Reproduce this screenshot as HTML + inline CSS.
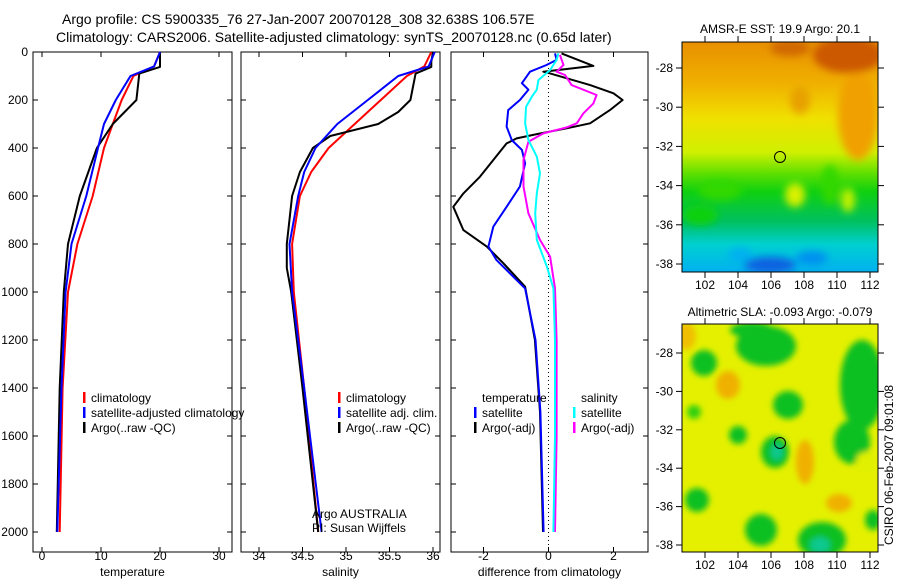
<!DOCTYPE html>
<html><head><meta charset="utf-8">
<style>
html,body{margin:0;padding:0;background:#fff;}
svg{display:block;font-family:"Liberation Sans",sans-serif;}
text{font-size:12px;fill:#000;}
.ttl{font-size:14px;}
</style></head>
<body>
<svg id="chart" width="900" height="580" viewBox="0 0 900 580">
<defs>
<filter id="blur1" x="-20%" y="-20%" width="140%" height="140%"><feGaussianBlur stdDeviation="4"/></filter>
<filter id="blur2" x="-20%" y="-20%" width="140%" height="140%"><feGaussianBlur stdDeviation="3"/></filter>
<clipPath id="clipMap1"><rect x="682" y="42" width="196" height="230"/></clipPath>
<clipPath id="clipMap2"><rect x="682" y="324" width="196" height="228"/></clipPath>
<linearGradient id="sstGrad" x1="0" y1="0" x2="0" y2="1">
<stop offset="0" stop-color="#e89000"/>
<stop offset="0.18" stop-color="#f0b000"/>
<stop offset="0.33" stop-color="#f0e000"/>
<stop offset="0.48" stop-color="#d0f000"/>
<stop offset="0.57" stop-color="#60e000"/>
<stop offset="0.65" stop-color="#10d010"/>
<stop offset="0.78" stop-color="#00c060"/>
<stop offset="0.88" stop-color="#00d0d0"/>
<stop offset="1" stop-color="#00b0f0"/>
</linearGradient>
</defs>
<text class="ttl" x="62" y="24">Argo profile: CS 5900335_76 27-Jan-2007 20070128_308 32.638S 106.57E</text>
<text class="ttl" x="56" y="42">Climatology: CARS2006. Satellite-adjusted climatology: synTS_20070128.nc (0.65d later)</text>
<g id="panels"></g>

<!-- Map 1 -->
<text x="780" y="33" text-anchor="middle">AMSR-E SST: 19.9 Argo: 20.1</text>
<g clip-path="url(#clipMap1)">
<rect x="682" y="42" width="196" height="230" fill="url(#sstGrad)"/>
<g filter="url(#blur1)">
<ellipse cx="858" cy="115" rx="20" ry="45" fill="#f0a000"/>
<ellipse cx="848" cy="55" rx="35" ry="18" fill="#cc5800"/>
<ellipse cx="790" cy="48" rx="20" ry="8" fill="#d06800"/>
<ellipse cx="800" cy="100" rx="10" ry="14" fill="#e8a000"/>
<ellipse cx="720" cy="190" rx="22" ry="10" fill="#30d800"/>
<ellipse cx="830" cy="185" rx="9" ry="20" fill="#30d800"/>
<ellipse cx="795" cy="195" rx="10" ry="12" fill="#d8f000"/>
<ellipse cx="848" cy="200" rx="7" ry="12" fill="#c0f000"/>
<ellipse cx="700" cy="215" rx="18" ry="10" fill="#10d010"/>
<ellipse cx="770" cy="265" rx="26" ry="8" fill="#1060e0"/>
<ellipse cx="812" cy="258" rx="16" ry="7" fill="#0090f0"/>
<ellipse cx="740" cy="255" rx="12" ry="7" fill="#00b0f0"/>
</g>
</g>
<rect x="682" y="42" width="196" height="230" fill="none" stroke="#000"/>
<circle cx="780" cy="157" r="5.5" fill="none" stroke="#000"/>
<g id="map1axes"></g>

<!-- Map 2 -->
<text x="780" y="316" text-anchor="middle">Altimetric SLA: -0.093 Argo: -0.079</text>
<g clip-path="url(#clipMap2)">
<rect x="682" y="324" width="196" height="228" fill="#e4f000"/>
<g filter="url(#blur2)">
<ellipse cx="686" cy="336" rx="10" ry="14" fill="#f0c000"/>
<ellipse cx="728" cy="385" rx="12" ry="14" fill="#f0b000"/>
<ellipse cx="805" cy="462" rx="9" ry="22" fill="#f0b000"/>
<ellipse cx="839" cy="503" rx="13" ry="9" fill="#f0b000"/>
<ellipse cx="704" cy="363" rx="13" ry="13" fill="#10c020"/>
<ellipse cx="766" cy="346" rx="30" ry="20" fill="#10c020"/>
<ellipse cx="752" cy="330" rx="22" ry="8" fill="#10c020"/>
<ellipse cx="788" cy="405" rx="15" ry="14" fill="#10c020"/>
<ellipse cx="775" cy="452" rx="14" ry="16" fill="#10c020"/>
<ellipse cx="777" cy="452" rx="6" ry="8" fill="#10c890"/>
<ellipse cx="738" cy="435" rx="9" ry="9" fill="#10c020"/>
<ellipse cx="694" cy="412" rx="7" ry="7" fill="#30d010"/>
<ellipse cx="862" cy="385" rx="22" ry="45" fill="#10c020"/>
<ellipse cx="852" cy="442" rx="18" ry="22" fill="#10c020"/>
<ellipse cx="866" cy="462" rx="10" ry="10" fill="#e0f000"/>
<ellipse cx="697" cy="500" rx="12" ry="12" fill="#10c020"/>
<ellipse cx="761" cy="530" rx="16" ry="16" fill="#10c020"/>
<ellipse cx="822" cy="540" rx="24" ry="18" fill="#10c020"/>
<ellipse cx="820" cy="545" rx="10" ry="8" fill="#10c890"/>
<ellipse cx="873" cy="520" rx="8" ry="10" fill="#10c020"/>
</g>
</g>
<rect x="682" y="324" width="196" height="228" fill="none" stroke="#000"/>
<circle cx="780" cy="443" r="5.5" fill="none" stroke="#000"/>
<g id="map2axes"></g>
<text transform="translate(893,465) rotate(-90)" text-anchor="middle">CSIRO 06-Feb-2007 09:01:08</text>
</svg>
<script>
// ---- data ----
const depthTicks = [0,200,400,600,800,1000,1200,1400,1600,1800,2000];
const tempTicks = [0,10,20,30];
const salTicks = [34,34.5,35,35.5,36];
const diffTicks = [-2,0,2];
const tempP = [0,60,100,200,300,400,600,800,1000,1400,2000];
const tempClim = [20,19,15.5,13.5,12,10.5,8.6,6,4.4,3.5,3];
const tempSat = [20,19,15,12.5,10.5,9.5,7.5,5,4,3.3,2.6];
const argoTP = [0,50,62,90,200,250,300,400,600,800,1000,1400,2000];
const argoT = [20,20,20,16.5,16,14,12,9.3,6.4,4.4,3.7,3,2.5];
const salP = [0,60,100,200,300,400,500,600,800,1000,1400,2000];
const salClim = [35.98,35.9,35.7,35.4,35.1,34.8,34.6,34.47,34.38,34.4,34.52,34.68];
const salSat = [36.02,35.95,35.6,35.25,34.9,34.65,34.52,34.45,34.35,34.38,34.52,34.72];
const argoSP = [0,40,62,90,200,250,300,350,400,500,600,800,900,1000,1400,2000];
const argoS = [36.0,35.98,35.98,35.8,35.74,35.6,35.37,34.82,34.62,34.47,34.38,34.32,34.32,34.37,34.5,34.68];
const dTempArgoP = [6,58,82,89,138,172,200,242,297,318,342,360,381,450,520,589,645,742,811,880,978,1200,1500,2000];
const dTempArgo = [0.4,1.38,-0.16,0.05,1.28,2.0,2.28,1.89,1.28,0.56,-0.36,-0.98,-1.29,-1.7,-2.11,-2.62,-2.93,-2.62,-1.9,-1.39,-0.72,-0.42,-0.26,-0.17];
const dTempSatP = [6,33,54,82,130,157,200,242,311,367,408,464,561,645,728,811,867,985,1200,1500,2000];
const dTempSat = [0.2,0.25,-0.06,-0.57,-0.82,-0.62,-0.88,-1.24,-1.29,-1.13,-0.82,-0.72,-0.88,-1.29,-1.7,-1.85,-1.6,-0.72,-0.4,-0.25,-0.15];
const dSalSatP = [6,33,75,117,157,186,228,297,367,436,506,589,672,783,894,985,1200,1600,2000];
const dSalSat = [0.3,0.25,0.05,-0.31,-0.36,-0.51,-0.69,-0.72,-0.62,-0.36,-0.26,-0.36,-0.41,-0.36,-0.05,0.15,0.2,0.2,0.15];
const dSalArgoP = [12,54,82,96,138,179,214,256,297,314,339,374,450,561,672,783,853,985,1200,1600,2000];
const dSalArgo = [0.35,0.46,0.25,0.51,0.71,1.48,1.38,1.07,0.87,0.56,-0.16,-0.62,-0.77,-0.77,-0.62,-0.26,0.05,0.2,0.25,0.25,0.2];
const latTicks = [-28,-30,-32,-34,-36,-38];
const lonTicks = [102,104,106,108,110,112];

const NS = 'http://www.w3.org/2000/svg';
const root = document.getElementById('panels');
function el(tag, attrs, parent){const e=document.createElementNS(NS,tag);for(const k in attrs)e.setAttribute(k,attrs[k]);(parent||root).appendChild(e);return e;}
const top0=52, bot0=552;
function yP(p){return 52 + p*0.24;}
function mkX(x0,v0,x1,v1){return v=>x0+(v-v0)*(x1-x0)/(v1-v0);}
const panels = [
 {name:'temperature-panel', l:33, r:232, x:mkX(42,0,101,10), ticks:tempTicks, label:'temperature'},
 {name:'salinity-panel', l:241, r:440, x:mkX(259,34,433,36), ticks:salTicks, label:'salinity'},
 {name:'difference-panel', l:451, r:648, x:mkX(548.5,0,613.5,2), ticks:diffTicks, label:'difference from climatology'}
];
panels.forEach((pn,i)=>{
  const g = el('g',{});
  
  
  pn.g = g;
  el('rect',{x:pn.l,y:top0,width:pn.r-pn.l,height:bot0-top0,fill:'none',stroke:'#000'},g);
  depthTicks.forEach(d=>{
    const y=yP(d);
    el('line',{x1:pn.l,x2:pn.l+5,y1:y,y2:y,stroke:'#000'},g);
    el('line',{x1:pn.r,x2:pn.r-5,y1:y,y2:y,stroke:'#000'},g);
    if(i===0){const t=el('text',{x:28,y:y+4,'text-anchor':'end'},g);t.textContent=d;
      
      }
  });
  pn.ticks.forEach(v=>{
    const x=pn.x(v);
    el('line',{x1:x,x2:x,y1:top0,y2:top0+5,stroke:'#000'},g);
    el('line',{x1:x,x2:x,y1:bot0,y2:bot0-5,stroke:'#000'},g);
    const t=el('text',{x:x,y:bot0+9,'text-anchor':'middle'},g);t.textContent=v;
    t.setAttribute('y', 560);
    
    
  });
  const xl=el('text',{x:(pn.l+pn.r)/2,y:576,'text-anchor':'middle'},g);
  xl.textContent=pn.label;
  
  
});
function line(pn, ps, vs, color, name){
  const pts = ps.map((p,k)=>pn.x(vs[k]).toFixed(1)+','+yP(p).toFixed(1)).join(' ');
  const pl = el('polyline',{points:pts,fill:'none',stroke:color,'stroke-width':2,'stroke-linejoin':'round'},pn.g);
  
  
}
const [P1,P2,P3]=panels;
line(P1,tempP,tempClim,'#f00','temperature-climatology-line');
line(P1,argoTP,argoT,'#000','temperature-argo-line');
line(P1,tempP,tempSat,'#00f','temperature-satellite-line');
line(P2,salP,salClim,'#f00','salinity-climatology-line');
line(P2,argoSP,argoS,'#000','salinity-argo-line');
line(P2,salP,salSat,'#00f','salinity-satellite-line');
const z=el('line',{x1:P3.x(0),x2:P3.x(0),y1:top0,y2:bot0,stroke:'#000','stroke-dasharray':'1,3'},P3.g);


line(P3,dTempArgoP,dTempArgo,'#000','temperature-argo-difference-line');
line(P3,dTempSatP,dTempSat,'#00f','temperature-satellite-difference-line');
line(P3,dSalArgoP,dSalArgo,'#f0f','salinity-argo-difference-line');
line(P3,dSalSatP,dSalSat,'#0ff','salinity-satellite-difference-line');

function legend(items, x, y0, name){
  const g=el('g',{});
  
  
  items.forEach((it,k)=>{
    const y=y0+k*15;
    if(it[1]) el('rect',{x:x,y:y-10,width:2.5,height:11,fill:it[1]},g);
    const t=el('text',{x:x+8,y:y},g);t.textContent=it[0];
    
    
  });
}
legend([['climatology','#f00'],['satellite-adjusted climatology','#00f'],['Argo(..raw -QC)','#000']],83,402,'temperature-legend');
legend([['climatology','#f00'],['satellite adj. clim.','#00f'],['Argo(..raw -QC)','#000']],338,402,'salinity-legend');
legend([['temperature',null],['satellite','#00f'],['Argo(-adj)','#000']],474,402,'difference-temperature-legend');
legend([['salinity',null],['satellite','#0ff'],['Argo(-adj)','#f0f']],573,402,'difference-salinity-legend');
const a1=el('text',{x:312,y:518});a1.textContent='Argo AUSTRALIA';


const a2=el('text',{x:312,y:532});a2.textContent='PI: Susan Wijffels';



function mapAxes(id, top, bottom, latY){
  const g=document.getElementById(id);
  const lonX=mkX(705,102,870,112);
  latTicks.forEach(l=>{
    const y=latY(l);
    el('line',{x1:676,x2:682,y1:y,y2:y,stroke:'#000'},g);
    el('line',{x1:878,x2:884,y1:y,y2:y,stroke:'#000'},g);
    const t=el('text',{x:673,y:y+4,'text-anchor':'end'},g);t.textContent=l;
    
    
  });
  lonTicks.forEach(v=>{
    const x=lonX(v);
    el('line',{x1:x,x2:x,y1:top-6,y2:top,stroke:'#000'},g);
    el('line',{x1:x,x2:x,y1:bottom,y2:bottom+6,stroke:'#000'},g);
    const t=el('text',{x:x,y:bottom+17,'text-anchor':'middle'},g);t.textContent=v;
    
    
  });
}
mapAxes('map1axes',42,272,mkX(68,-28,264,-38));
mapAxes('map2axes',324,552,mkX(353,-28,545,-38));
</script>
</body></html>
